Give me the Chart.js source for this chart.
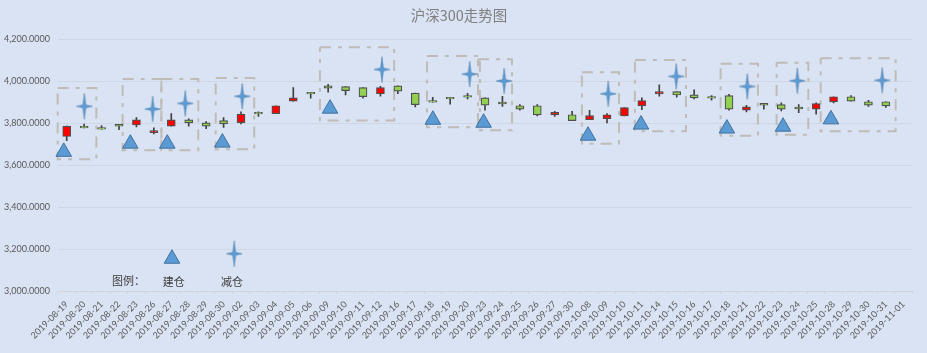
<!DOCTYPE html>
<html>
<head>
<meta charset="utf-8">
<title>沪深300走势图</title>
<script src="https://cdn.jsdelivr.net/npm/chart.js@4"></script>
<style>
    html, body { margin: 0; padding: 0; background: #dae3f3; }
    #wrap { width: 927px; height: 353px; }
</style>
</head>
<body>
<div id="wrap"><canvas id="trendChart" width="927" height="353"></canvas></div>
<script>
var dates = ['2019-08-19','2019-08-20','2019-08-21','2019-08-22','2019-08-23','2019-08-26','2019-08-27','2019-08-28','2019-08-29','2019-08-30',
    '2019-09-02','2019-09-03','2019-09-04','2019-09-05','2019-09-06','2019-09-09','2019-09-10','2019-09-11','2019-09-12','2019-09-16',
    '2019-09-17','2019-09-18','2019-09-19','2019-09-20','2019-09-23','2019-09-24','2019-09-25','2019-09-26','2019-09-27','2019-09-30',
    '2019-10-08','2019-10-09','2019-10-10','2019-10-11','2019-10-14','2019-10-15','2019-10-16','2019-10-17','2019-10-18','2019-10-21',
    '2019-10-22','2019-10-23','2019-10-24','2019-10-25','2019-10-28','2019-10-29','2019-10-30','2019-10-31','2019-11-01'];

// 开盘 / 收盘 / 最高 / 最低
var opens = [3737,3786,3780,3795,3792,3755,3787,3817,3802,3813,3803,3853,3846,3906,3948,3979,3975,3970,3941,3979,3944,3909,3924,3933,3922,3901,3884,3884,3840,3841,3817,3822,3835,3883,3940,3951,3936,3928,3932,3863,3895,3889,3877,3868,3902,3927,3903,3903,null];
var closes = [3787,3778,3772,3787,3817,3765,3817,3802,3787,3797,3844,3845,3884,3922,3940,3968,3956,3927,3970,3954,3889,3901,3916,3925,3887,3893,3868,3840,3852,3813,3837,3841,3875,3908,3951,3935,3921,3920,3868,3879,3887,3868,3869,3894,3927,3906,3887,3883,null];
var highs = [3787,3797,3789,3795,3827,3779,3846,3822,3808,3827,3855,3855,3884,3970,3948,3986,3975,3970,3976,3979,3944,3924,3924,3943,3922,3929,3889,3889,3857,3857,3862,3846,3875,3922,3984,3951,3960,3933,3938,3886,3895,3898,3889,3898,3927,3932,3910,3903,null];
var lows = [3717,3778,3772,3770,3783,3749,3787,3787,3775,3781,3797,3833,3846,3906,3920,3949,3936,3920,3930,3941,3878,3901,3892,3916,3863,3881,3863,3835,3833,3813,3817,3802,3835,3865,3930,3925,3916,3911,3863,3854,3868,3859,3851,3844,3897,3906,3881,3876,null];

// 建仓 / 减仓 标记，x 为类目序号
var buyX = [-0.17,3.65,5.77,8.93,15.11,21.01,23.92,29.91,32.95,37.88,41.1,43.85,6.04];
var buyY = [3664,3703,3703,3708,3870,3817,3803,3741,3794,3775,3784,3819,3154];
var sellX = [1.01,4.93,6.8,10.07,18.09,23.12,25.1,31.07,34.97,39.05,41.92,46.79,9.61];
var sellY = [3881,3868,3895,3929,4057,4035,4002,3941,4024,3976,4003,4005,3178];

// 虚线框
var boxLeft = [-0.52,3.21,5.43,8.55,14.53,20.67,23.6,29.56,32.6,37.52,40.73,43.26];
var boxRight = [1.7,5.43,7.55,10.76,18.79,23.71,25.55,31.69,35.53,39.66,42.55,47.56];
var boxTop = [3968,4011,4011,4016,4163,4121,4106,4044,4102,4084,4089,4111];
var boxBottom = [3629,3671,3671,3676,3814,3781,3767,3703,3762,3741,3746,3762];

var titleText = '沪深300走势图';
var noteTexts = ['图例：','建仓','减仓'];
var noteX = [3.54,6.14,9.48];
var noteY = [3050,3045,3045];

var yTicks = [3000,3200,3400,3600,3800,4000,4200];

function makeStar() {
    var c = document.createElement('canvas');
    c.width = 20;
    c.height = 28;
    var g = c.getContext('2d');
    var cx = 10, cy = 14, arm = 1.5;
    g.beginPath();
    g.moveTo(cx, 1);
    g.lineTo(cx + arm, cy - arm);
    g.lineTo(cx + 8, cy);
    g.lineTo(cx + arm, cy + arm);
    g.lineTo(cx, 27);
    g.lineTo(cx - arm, cy + arm);
    g.lineTo(cx - 8, cy);
    g.lineTo(cx - arm, cy - arm);
    g.closePath();
    g.fillStyle = '#5b9bd5';
    g.fill();
    g.lineWidth = 0.6;
    g.strokeStyle = 'rgba(65,113,156,0.7)';
    g.stroke();
    return c;
}

var notesPlugin = {
    id: 'notes',
    afterDatasetsDraw: function (chart) {
        var ctx = chart.ctx;
        var xs = chart.scales.xPos;
        var ys = chart.scales.y;
        ctx.save();
        ctx.textAlign = 'center';
        ctx.textBaseline = 'middle';
        ctx.font = '14.5px "Noto Sans CJK SC"';
        ctx.fillStyle = '#7f7f7f';
        ctx.fillText(titleText, 459, 15);
        ctx.font = '11px "Noto Sans CJK SC"';
        ctx.fillStyle = '#404040';
        noteTexts.forEach(function (t, i) {
            ctx.fillText(t, xs.getPixelForValue(noteX[i]), ys.getPixelForValue(noteY[i]));
        });
        ctx.restore();
    }
};

var datasets = [];

// 虚线框
boxLeft.forEach(function (left, i) {
    datasets.push({
        type: 'line',
        xAxisID: 'xPos',
        data: [
            { x: left, y: boxTop[i] },
            { x: boxRight[i], y: boxTop[i] },
            { x: boxRight[i], y: boxBottom[i] },
            { x: left, y: boxBottom[i] },
            { x: left, y: boxTop[i] }
        ],
        borderColor: '#bfbbb7',
        borderWidth: 2,
        borderDash: [11, 7, 4, 7],
        pointRadius: 0,
        tension: 0,
        clip: false,
        order: 5
    });
});

// 影线
datasets.push({
    type: 'bar',
    data: dates.map(function (d, i) { return lows[i] === null ? null : [lows[i], highs[i]]; }),
    backgroundColor: '#404040',
    barThickness: 1,
    grouped: false,
    order: 4
});

// 实体
datasets.push({
    type: 'bar',
    data: dates.map(function (d, i) { return opens[i] === null ? null : [opens[i], closes[i]]; }),
    backgroundColor: dates.map(function (d, i) { return closes[i] > opens[i] ? '#ff0000' : '#92d050'; }),
    borderColor: '#505050',
    borderWidth: 1.2,
    borderSkipped: false,
    barThickness: 8,
    grouped: false,
    order: 3
});

// 建仓
datasets.push({
    type: 'scatter',
    xAxisID: 'xPos',
    data: buyX.map(function (x, i) { return { x: x, y: buyY[i] }; }),
    pointStyle: 'triangle',
    pointRadius: 9,
    backgroundColor: '#5b9bd5',
    borderColor: '#41719c',
    borderWidth: 1,
    clip: false,
    order: 2
});

// 减仓
datasets.push({
    type: 'scatter',
    xAxisID: 'xPos',
    data: sellX.map(function (x, i) { return { x: x, y: sellY[i] }; }),
    pointStyle: makeStar(),
    pointRadius: 9,
    clip: false,
    order: 1
});

new Chart(document.getElementById('trendChart').getContext('2d'), {
    data: { labels: dates, datasets: datasets },
    plugins: [notesPlugin],
    options: {
        responsive: false,
        animation: false,
        events: [],
        layout: { padding: { left: 0, right: 15, top: 39.5, bottom: 0 } },
        plugins: {
            legend: { display: false },
            tooltip: { enabled: false }
        },
        scales: {
            x: {
                type: 'category',
                offset: true,
                grid: { drawOnChartArea: false, drawTicks: true, tickLength: 3, color: '#d3d4da', offset: true },
                border: { color: '#d3d4da' },
                ticks: {
                    autoSkip: false,
                    maxRotation: 45,
                    minRotation: 45,
                    padding: 5,
                    color: '#595959',
                    font: { family: 'Lato', size: 9 }
                },
                afterFit: function (scale) { scale.height = 62; }
            },
            xPos: {
                type: 'linear',
                display: false,
                min: -0.5,
                max: 48.5
            },
            y: {
                min: 3000,
                max: 4200,
                afterBuildTicks: function (scale) {
                    scale.ticks = yTicks.map(function (v) { return { value: v }; });
                },
                grid: { color: '#cfd6e4', drawTicks: false },
                border: { display: false },
                ticks: {
                    padding: 8,
                    color: '#595959',
                    font: { family: 'Lato', size: 9 },
                    callback: function (v) {
                        return v.toLocaleString('en-US', { minimumFractionDigits: 4, maximumFractionDigits: 4 });
                    }
                },
                afterFit: function (scale) { scale.width = 58; }
            }
        }
    }
});
</script>
</body>
</html>
